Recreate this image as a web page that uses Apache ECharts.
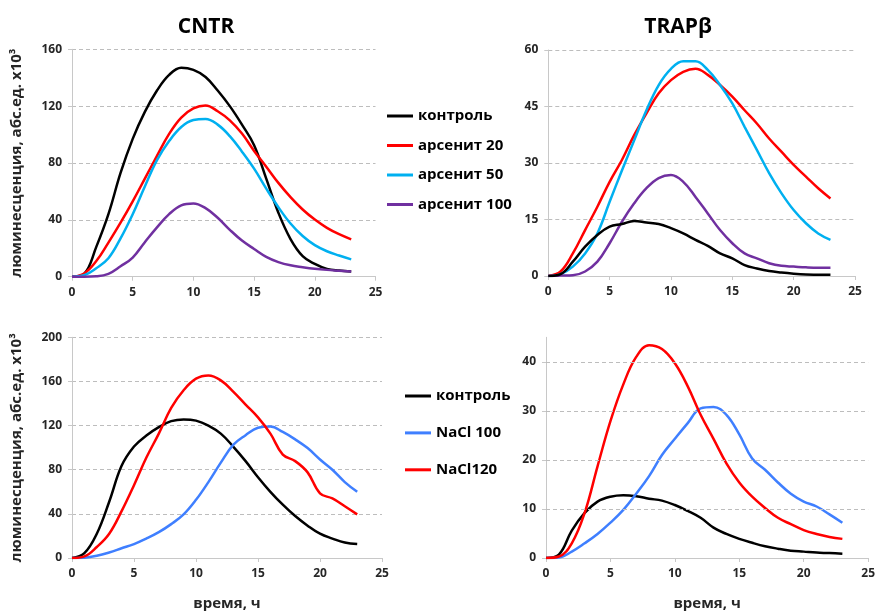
<!DOCTYPE html>
<html>
<head>
<meta charset="utf-8">
<script src="https://cdn.jsdelivr.net/npm/echarts@6/dist/echarts.min.js"></script>
<style>
html,body{margin:0;padding:0;background:#fff;}
#chart{width:878px;height:612px;}
</style>
</head>
<body>
<div id="chart"></div>
<script>
// time, h
var times = [0,1,2,3,4,5,6,7,8,9,10,11,12,13,14,15,16,17,18,19,20,21,22,23];

// Panel CNTR (top-left)
var cntrControl = [0,2,21,44,73,97,116,131,142,147,145.5,140.5,131,120,107,92.5,69,45,26.5,14.5,9,5.5,4.3,3.7];
var cntrArs20   = [0,2.3,11,24,38,53,69,85,100.5,112,118.4,120.5,116.4,110,100.7,88.5,77.4,66,56,47.3,40.2,34.4,29.9,26.3];
var cntrArs50   = [0,1,6,13,27,44,63.5,82,95.4,105.3,110.2,111,107,98.9,88,76,62,48.9,37.4,28.6,22.2,17.9,14.9,12.2];
var cntrArs100  = [0,0,0.3,2,7.3,13.5,24.3,34.7,44,50.2,51.5,48.2,41.5,33,25.4,19.5,14,10.3,8,6.7,5.6,4.8,4.2,3.6];

// Panel TRAPβ (top-right)
var trapControl = [0,0.5,3.8,7.8,10.9,13.1,13.8,14.6,14.2,13.8,12.7,11.3,9.6,8,6,4.7,2.9,2,1.3,0.9,0.6,0.4,0.35,0.3];
var trapArs20   = [0,1.2,6,12.2,18.4,25,30.8,37.4,43.2,48.5,52,54.2,55,53.4,50.7,47.6,44,40.5,36.5,33,29.5,26.4,23.3,20.6];
var trapArs50   = [0,0.5,2.5,6,11.3,19.7,28,36,44,50.7,55,57,57,54.7,50.7,45.8,39.6,33.5,27.3,22,17.5,14,11.3,9.6];
var trapArs100  = [0,0.1,0.2,1.2,3.8,8.7,14.4,19.3,23.3,26,26.8,25,21,16.6,12.2,8.7,6,4.7,3.4,2.7,2.5,2.3,2.2,2.2];

// Panel CNTR NaCl (bottom-left)
var cntrNaControl = [0,4.4,22,51,83.5,101,111,118.6,124,125.6,124.5,120,112.7,101,87.8,73.2,60,48.3,38,29.3,22,17.6,14,12.6];
var cntrNa100     = [0,0.3,2,5,8.8,12.6,17.6,23.4,30.7,39.5,52.7,68.8,86.4,102.5,111.3,118,119.2,114.2,107.5,99.6,89.3,80,68.8,60];
var cntrNa120     = [0,1.5,10,22,42.5,66,91,112.7,136,152,162.5,165.4,161,150.8,139,127.4,112.7,93.7,87.8,77.6,58.6,54,46.9,39.5];

// Panel TRAPβ NaCl (bottom-right)
var trapNaControl = [0,0.7,5.6,9.2,11.5,12.5,12.8,12.6,12.1,11.7,10.8,9.6,8.2,6.2,4.9,3.9,3.1,2.4,1.9,1.5,1.3,1.1,1,0.85];
var trapNa100     = [0,0.1,1.3,3,4.9,7.2,9.8,13.1,16.7,21,24.3,27.5,30.5,30.8,29.2,25.2,20.3,18,15.4,13.1,11.5,10.5,8.9,7.2];
var trapNa120     = [0,0.3,3,9.2,18.7,27.9,35.4,41,43.4,42.6,39.7,35,29.2,24.3,19.3,15.4,12.5,10.2,8.2,6.9,5.7,4.9,4.3,3.9];

var titles = ['CNTR', 'TRAPβ'];
var legendTop = ['контроль', 'арсенит 20', 'арсенит 50', 'арсенит 100'];
var legendBottom = ['контроль', 'NaCl 100', 'NaCl120'];
var yName = 'люминесценция, абс.ед. x10³';
var xName = 'время, ч';
var nacl45Grid = [10, 20, 30, 40];

var FONT = '"Open Sans", "DejaVu Sans", sans-serif';
var C = {black:'#000000', red:'#ff0000', cyan:'#00b0f0', purple:'#7030a0', blue:'#3f7fff'};

function pairs(arr){ return times.map(function(t,i){ return [t, arr[i]]; }); }

function line(name, arr, color, idx){
  return {
    type:'line', name:name, xAxisIndex:idx, yAxisIndex:idx,
    data:pairs(arr), showSymbol:false, smooth:0.4,
    itemStyle:{color:color}, lineStyle:{color:color, width:2.5}, z:3
  };
}

var gridDefs = [
  {left:72, top:49.3, width:303.5, height:227.4},
  {left:548.3, top:50, width:306.7, height:226},
  {left:72, top:337.3, width:310, height:227.7},
  {left:546, top:337.3, width:325.7, height:227.7}
];
var yDefs = [
  {max:160, interval:40},
  {max:60, interval:15},
  {max:200, interval:40},
  {max:45, interval:10}
];

var axisLabelStyle = {color:'#262626', fontFamily:FONT, fontWeight:'bold', fontSize:12};
var gridLine = {type:[4,3], color:'#bdbdbd', width:1};

var xAxes = gridDefs.map(function(g,i){
  return {
    type:'value', gridIndex:i, min:0, max:25, interval:5,
    axisLine:{show:true, lineStyle:{color:'#c8c8c8', width:1}},
    axisTick:{show:true, length:4, lineStyle:{color:'#c8c8c8'}},
    axisLabel:Object.assign({margin:10}, axisLabelStyle),
    splitLine:{show:false},
    name: i >= 2 ? xName : '',
    nameLocation:'middle', nameGap:38,
    nameTextStyle:{color:'#262626', fontFamily:FONT, fontWeight:'bold', fontSize:15}
  };
});
var yAxes = gridDefs.map(function(g,i){
  return {
    type:'value', gridIndex:i, min:0, max:yDefs[i].max, interval:yDefs[i].interval,
    axisLine:{show:true, lineStyle:{color:'#c8c8c8', width:1}},
    axisTick:{show:true, length:4, lineStyle:{color:'#c8c8c8'}},
    axisLabel:Object.assign({margin:10, showMaxLabel: i === 3 ? false : true}, axisLabelStyle),
    splitLine:{show: i !== 3, lineStyle:gridLine},
    name: (i === 0 || i === 2) ? yName : '',
    nameLocation:'middle', nameRotate:90, nameGap:48,
    nameTextStyle:{color:'#262626', fontFamily:FONT, fontWeight:'bold', fontSize:15}
  };
});

var series = [
  line('контроль', cntrControl, C.black, 0),
  line('арсенит 20', cntrArs20, C.red, 0),
  line('арсенит 50', cntrArs50, C.cyan, 0),
  line('арсенит 100', cntrArs100, C.purple, 0),
  line('арсенит 20', trapArs20, C.red, 1),
  line('арсенит 50', trapArs50, C.cyan, 1),
  line('арсенит 100', trapArs100, C.purple, 1),
  line('контроль', trapControl, C.black, 1),
  line('контроль', cntrNaControl, C.black, 2),
  line('NaCl 100', cntrNa100, C.blue, 2),
  line('NaCl120', cntrNa120, C.red, 2),
  line('контроль', trapNaControl, C.black, 3),
  line('NaCl 100', trapNa100, C.blue, 3),
  line('NaCl120', trapNa120, C.red, 3),
  {
    type:'line', name:'grid45', xAxisIndex:3, yAxisIndex:3, data:[], z:1, silent:true,
    markLine:{silent:true, symbol:'none', label:{show:false}, lineStyle:gridLine,
      data: nacl45Grid.map(function(v){ return {yAxis:v}; })}
  }
];

var legendText = {color:'#000', fontFamily:FONT, fontWeight:'bold', fontSize:15, lineHeight:18};

var option = {
  animation:false,
  backgroundColor:'#ffffff',
  title:[
    {text:titles[0], left:201, top:12, textAlign:'center',
     textStyle:{fontFamily:FONT, fontWeight:'bold', fontSize:21, color:'#000'}},
    {text:titles[1], left:673, top:12, textAlign:'center',
     textStyle:{fontFamily:FONT, fontWeight:'bold', fontSize:21, color:'#000'}}
  ],
  grid: gridDefs,
  xAxis: xAxes,
  yAxis: yAxes,
  legend:[
    {data:legendTop, orient:'vertical', left:382, top:102, icon:'rect', itemWidth:26, itemHeight:3,
     itemGap:11.5, textStyle:legendText, selectedMode:false},
    {data:legendBottom, orient:'vertical', left:400, top:382, icon:'rect', itemWidth:26, itemHeight:3,
     itemGap:18.9, textStyle:legendText, selectedMode:false}
  ],
  series: series
};

var chart = echarts.init(document.getElementById('chart'), null, {renderer:'canvas'});
chart.setOption(option);
</script>
</body>
</html>
